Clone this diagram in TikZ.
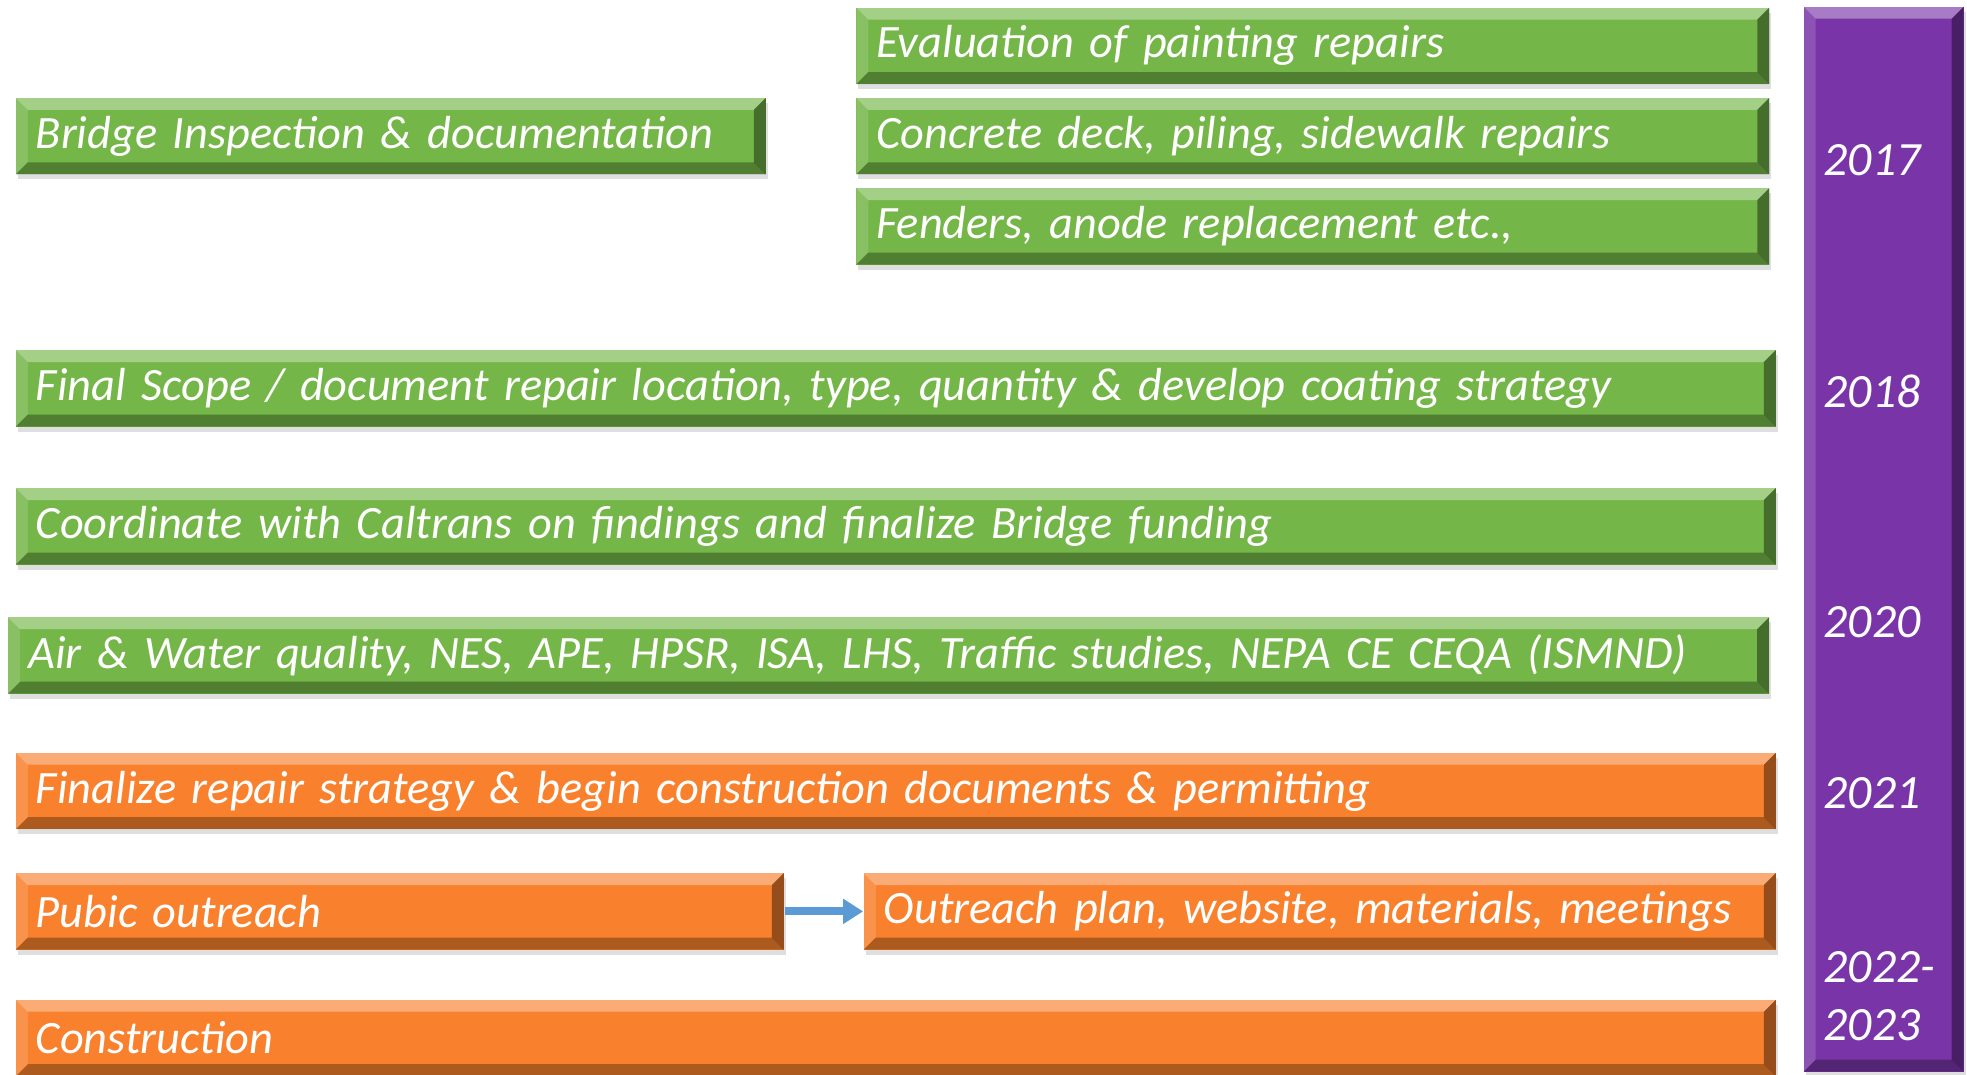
\documentclass[tikz,border=0pt]{standalone}
\usepackage{fontspec}
\setmainfont{Carlito}
\usepackage{xcolor}
\usepackage{tikz}
\usetikzlibrary{arrows.meta}
\usetikzlibrary{positioning}
\usetikzlibrary{calc}
\usetikzlibrary{shadows}

\definecolor{barverde}{HTML}{74B648}
\definecolor{barnaranja}{HTML}{F9812D}
\definecolor{barmorado}{HTML}{7935A8}
\definecolor{flechaazul}{HTML}{5B9BD5}

\begin{document}
\begin{tikzpicture}[every node/.style={font=\fontsize{13.2}{16}\selectfont\itshape, text=white}]
\tikzstyle{bisel}=[path picture={
    \coordinate (NW) at (path picture bounding box.north west);
    \coordinate (NE) at (path picture bounding box.north east);
    \coordinate (SW) at (path picture bounding box.south west);
    \coordinate (SE) at (path picture bounding box.south east);
    \fill[white, opacity=0.35] (NW) -- (NE) -- ($(NE)+(-0.12,-0.12)$) -- ($(NW)+(0.12,-0.12)$) -- cycle;
    \fill[white, opacity=0.15] (NW) -- ($(NW)+(0.12,-0.12)$) -- ($(SW)+(0.12,0.12)$) -- (SW) -- cycle;
    \fill[black, opacity=0.40] (NE) -- ($(NE)+(-0.12,-0.12)$) -- ($(SE)+(-0.12,0.12)$) -- (SE) -- cycle;
    \fill[black, opacity=0.30] (SW) -- ($(SW)+(0.12,0.12)$) -- ($(SE)+(-0.12,0.12)$) -- (SE) -- cycle;
}]
\tikzstyle{barra}=[
    rectangle,
    bisel,
    anchor=west,
    minimum height=0.765cm,
    inner xsep=0.2cm,
    inner ysep=0pt,
    align=left,
    execute at begin node={\hyphenpenalty=10000},
    drop shadow={opacity=0.25, shadow xshift=0.02cm, shadow yshift=-0.05cm}
]
\tikzstyle{verde}=[barra, fill=barverde]
\tikzstyle{naranja}=[barra, fill=barnaranja]
\tikzstyle{anio}=[anchor=west, align=left, inner sep=0pt, font=\fontsize{13.6}{16.5}\selectfont\itshape]

\useasboundingbox (0,0) rectangle (19.67,10.75);

% Barras verdes
\node[verde, text width=8.73cm] (eval) at (8.556,10.292) {Evaluation of painting repairs};
\node[verde, text width=8.73cm] (concrete) at (8.556,9.389) {Concrete deck, piling, sidewalk repairs};
\node[verde, text width=8.73cm] (fenders) at (8.556,8.486) {Fenders, anode replacement etc.,};
\node[verde, text width=7.10cm] (inspect) at (0.151,9.389) {Bridge Inspection \& documentation};
\node[verde, text width=17.20cm] (scope) at (0.151,6.867) {Final Scope / document repair location, type, quantity \& develop coating strategy};
\node[verde, text width=17.20cm] (caltrans) at (0.151,5.487) {Coordinate with Caltrans on findings and finalize Bridge funding};
\node[verde, text width=17.21cm] (studies) at (0.075,4.195) {Air \& Water quality, NES, APE, HPSR, ISA, LHS, Traffic studies, NEPA CE CEQA (ISMND)};

% Barras naranjas
\node[naranja, text width=17.20cm] (finalize) at (0.151,2.840) {Finalize repair strategy \& begin construction documents \& permitting};
\node[naranja, text width=7.28cm] (outreach) at (0.151,1.636) {Pubic outreach};
\node[naranja, text width=8.72cm] (plan) at (8.631,1.636) {Outreach plan, website, materials, meetings};
\node[naranja, text width=17.20cm] (construct) at (0.151,0.370) {Construction};

% Linea de tiempo
\node[rectangle, bisel, fill=barmorado, anchor=north west, minimum width=1.60cm, minimum height=10.65cm,
      drop shadow={opacity=0.25, shadow xshift=0.02cm, shadow yshift=-0.05cm}] (tiempo) at (18.03,10.69) {};
\node[anio] (y2017) at (18.23,9.144) {2017};
\node[anio] (y2018) at (18.23,6.836) {2018};
\node[anio] (y2020) at (18.23,4.528) {2020};
\node[anio] (y2021) at (18.23,2.822) {2021};
\node[anio] (y2022) at (18.23,0.790) {2022-\\2023};

% Flecha
\draw[-{Triangle[width=0.24cm, length=0.2cm]}, line width=0.08cm, flechaazul] (outreach) -- (plan);

\end{tikzpicture}
\end{document}
